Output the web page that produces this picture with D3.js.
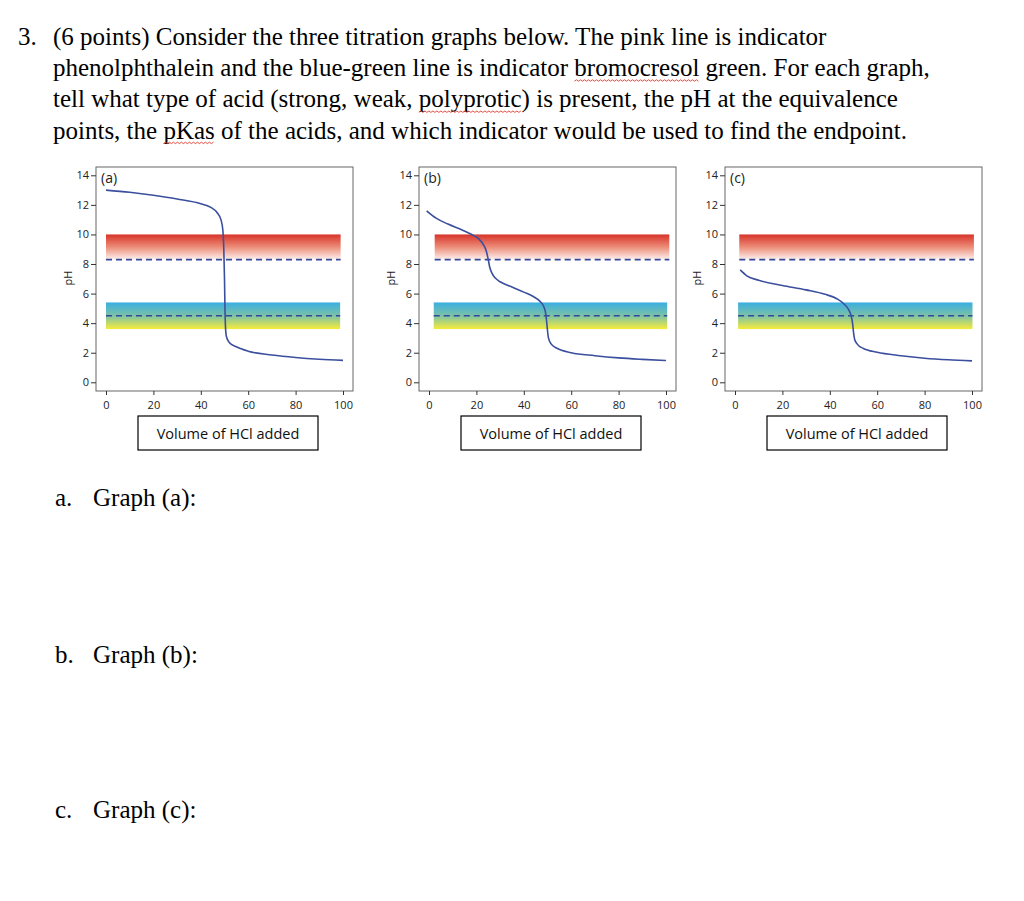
<!DOCTYPE html>
<html>
<head>
<meta charset="utf-8">
<script src="https://cdn.jsdelivr.net/npm/d3@7"></script>
<style>
  body { margin: 0; background: #fff; }
</style>
</head>
<body>
<div id="container"></div>
<script>
// question text
const questionNumber = "3.";
const questionLines = [
  "(6 points) Consider the three titration graphs below. The pink line is indicator",
  "phenolphthalein and the blue-green line is indicator bromocresol green. For each graph,",
  "tell what type of acid (strong, weak, polyprotic) is present, the pH at the equivalence",
  "points, the pKas of the acids, and which indicator would be used to find the endpoint."
];
// words with the red spell-check squiggle: [line, word]
const flaggedWords = [[1, "bromocresol"], [2, "polyprotic"], [3, "pKas"]];
const answerLabels = ["a.", "b.", "c."];
const answerTexts = ["Graph (a):", "Graph (b):", "Graph (c):"];

// chart data
const panelNames = ["(a)", "(b)", "(c)"];
const xTitle = "Volume of HCl added";
const yTitle = "pH";
const xTicks = [0, 20, 40, 60, 80, 100];
const yTicks = [0, 2, 4, 6, 8, 10, 12, 14];

// titration curves [volume, pH]
const curveA = [[0,13.0],[10,12.85],[20,12.65],[30,12.4],[40,12.08],[44,11.85],[47,11.45],[48.5,11.0],
  [49.3,10.3],[49.7,9.0],[50,7.0],[50.2,5.0],[50.4,3.8],[50.8,3.1],[52,2.7],[55,2.4],[60,2.1],
  [70,1.85],[80,1.68],[90,1.56],[100,1.48]];
const curveB = [[-1,11.6],[3,11.1],[8,10.7],[14,10.3],[18,10.0],[21,9.7],[23,9.3],[24.3,8.8],[25,8.3],
  [25.6,7.8],[26.5,7.4],[28,7.05],[30,6.8],[35,6.45],[40,6.1],[44,5.8],[47,5.45],[48.5,5.1],
  [49.3,4.6],[49.7,4.0],[50,3.5],[50.4,3.0],[51.5,2.6],[54,2.3],[60,2.0],[70,1.8],[80,1.65],
  [90,1.55],[100,1.47]];
const curveC = [[2.2,7.6],[5,7.2],[10,6.9],[20,6.55],[30,6.25],[38,5.95],[43,5.65],[46,5.3],[48,4.9],
  [49,4.5],[49.6,4.0],[50,3.4],[50.5,2.9],[51.5,2.6],[54,2.3],[60,2.03],[70,1.8],[80,1.63],
  [90,1.52],[100,1.45]];
const curves = [curveA, curveB, curveC];

// indicator ranges (pH) and the dashed transition lines
const phenolRange = [8.3, 10];
const bcgRange = [3.6, 5.4];
const phenolLine = 8.3;
const bcgLine = 4.5;
// x extent of the coloured bands in each panel (volume units)
const redBandX = [[0, 99], [2.4, 101.4], [1.8, 100.8]];
const blueBandX = [[0, 98.8], [2, 100.5], [1.3, 100.2]];

const width = 1024, height = 901;
const serif = "'Liberation Serif', 'Times New Roman', serif";
const sans = "'Open Sans', 'Noto Sans', sans-serif";
const textSize = "25px";

const svg = d3.select("#container").append("svg")
  .attr("width", width)
  .attr("height", height);

// gradients
const defs = svg.append("defs");
const redGrad = defs.append("linearGradient").attr("id", "redGrad")
  .attr("x1", 0).attr("y1", 0).attr("x2", 0).attr("y2", 1);
redGrad.append("stop").attr("offset", 0).attr("stop-color", "#d8342a");
redGrad.append("stop").attr("offset", 0.5).attr("stop-color", "#ec8c78");
redGrad.append("stop").attr("offset", 1).attr("stop-color", "#fdf1ee");
const blueGrad = defs.append("linearGradient").attr("id", "blueGrad")
  .attr("x1", 0).attr("y1", 0).attr("x2", 0).attr("y2", 1);
blueGrad.append("stop").attr("offset", 0).attr("stop-color", "#3aaee2");
blueGrad.append("stop").attr("offset", 0.5).attr("stop-color", "#7cc2a6");
blueGrad.append("stop").attr("offset", 1).attr("stop-color", "#f7ec3a");

// ---- question text ----
svg.append("text")
  .attr("x", 18).attr("y", 45)
  .style("font-family", serif).style("font-size", textSize)
  .text(questionNumber);

const lineNodes = [];
questionLines.forEach(function (line, i) {
  const t = svg.append("text")
    .attr("x", 53).attr("y", 45 + i * 31.2)
    .style("font-family", serif).style("font-size", textSize)
    .attr("fill", "#000")
    .text(line);
  lineNodes.push(t.node());
});

// red squiggly underline
function wavy(x0, x1, y) {
  let p = `M${x0},${y}`;
  let up = true;
  for (let x = x0 + 2; x <= x1; x += 2) {
    p += `L${x},${y + (up ? -1.4 : 0)}`;
    up = !up;
  }
  return p;
}
flaggedWords.forEach(function (f) {
  const node = lineNodes[f[0]];
  const idx = questionLines[f[0]].indexOf(f[1]);
  const start = node.getSubStringLength(0, idx);
  const w = node.getSubStringLength(idx, f[1].length);
  const y = 45 + f[0] * 31.2 + 5;
  svg.append("path")
    .attr("d", wavy(53 + start, 53 + start + w, y))
    .attr("fill", "none")
    .attr("stroke", "#e0392c")
    .attr("stroke-width", 0.9);
});

// ---- answer labels ----
const answerY = [506, 663, 818];
answerLabels.forEach(function (l, i) {
  svg.append("text").attr("x", 55).attr("y", answerY[i])
    .style("font-family", serif).style("font-size", textSize).text(l);
  svg.append("text").attr("x", 93).attr("y", answerY[i])
    .style("font-family", serif).style("font-size", textSize).text(answerTexts[i]);
});

// ---- the three panels ----
const panelLeft = [96, 419, 725];
const frameW = 257, frameTop = 167, frameBottom = 391;

panelNames.forEach(function (name, i) {
  const left = panelLeft[i];
  const x = d3.scaleLinear().domain([0, 100]).range([left + 10, left + 247]);
  const y = d3.scaleLinear().domain([0, 14]).range([382.3, 175.3]);
  const g = svg.append("g");

  // bands
  g.append("rect")
    .attr("x", x(redBandX[i][0]))
    .attr("y", y(phenolRange[1]))
    .attr("width", x(redBandX[i][1]) - x(redBandX[i][0]))
    .attr("height", y(phenolRange[0]) - y(phenolRange[1]))
    .attr("fill", "url(#redGrad)");
  g.append("rect")
    .attr("x", x(blueBandX[i][0]))
    .attr("y", y(bcgRange[1]))
    .attr("width", x(blueBandX[i][1]) - x(blueBandX[i][0]))
    .attr("height", y(bcgRange[0]) - y(bcgRange[1]))
    .attr("fill", "url(#blueGrad)");

  // dashed indicator lines
  [[phenolLine, redBandX[i]], [bcgLine, blueBandX[i]]].forEach(function (d) {
    g.append("line")
      .attr("x1", x(d[1][0])).attr("x2", x(d[1][1]))
      .attr("y1", y(d[0])).attr("y2", y(d[0]))
      .attr("stroke", "#34479a")
      .attr("stroke-width", 1.6)
      .attr("stroke-dasharray", "6,4");
  });

  // titration curve
  const line = d3.line()
    .x(d => x(d[0]))
    .y(d => y(d[1]))
    .curve(d3.curveMonotoneX);
  g.append("path")
    .datum(curves[i])
    .attr("d", line)
    .attr("fill", "none")
    .attr("stroke", "#3b4f9e")
    .attr("stroke-width", 1.6);

  // frame
  g.append("rect")
    .attr("x", left).attr("y", frameTop)
    .attr("width", frameW).attr("height", frameBottom - frameTop)
    .attr("fill", "none")
    .attr("stroke", "#666")
    .attr("stroke-width", 1);

  // axes
  const ya = g.append("g")
    .attr("transform", `translate(${left},0)`)
    .call(d3.axisLeft(y).tickValues(yTicks).tickSize(5).tickPadding(2));
  const xa = g.append("g")
    .attr("transform", `translate(0,${frameBottom})`)
    .call(d3.axisBottom(x).tickValues(xTicks).tickSize(4).tickPadding(6));
  [ya, xa].forEach(function (a) {
    a.select(".domain").remove();
    a.selectAll("line").attr("stroke", "#333");
    a.selectAll("text")
      .attr("fill", "#222")
      .style("font-family", sans)
      .style("font-size", "11px");
  });

  // panel letter
  g.append("text")
    .attr("x", left + 5).attr("y", 183)
    .style("font-family", sans).style("font-size", "14px")
    .attr("fill", "#222")
    .text(name);

  // y title
  g.append("text")
    .attr("transform", `translate(${left - 24},278) rotate(-90)`)
    .attr("text-anchor", "middle")
    .style("font-family", sans).style("font-size", "11px")
    .attr("fill", "#222")
    .text(yTitle);

  // x title in a box
  g.append("rect")
    .attr("x", left + 42).attr("y", 416)
    .attr("width", 180).attr("height", 34)
    .attr("fill", "#fff")
    .attr("stroke", "#000")
    .attr("stroke-width", 1.2);
  g.append("text")
    .attr("x", left + 132).attr("y", 439)
    .attr("text-anchor", "middle")
    .style("font-family", sans).style("font-size", "14.5px")
    .attr("fill", "#111")
    .text(xTitle);
});
</script>
</body>
</html>
